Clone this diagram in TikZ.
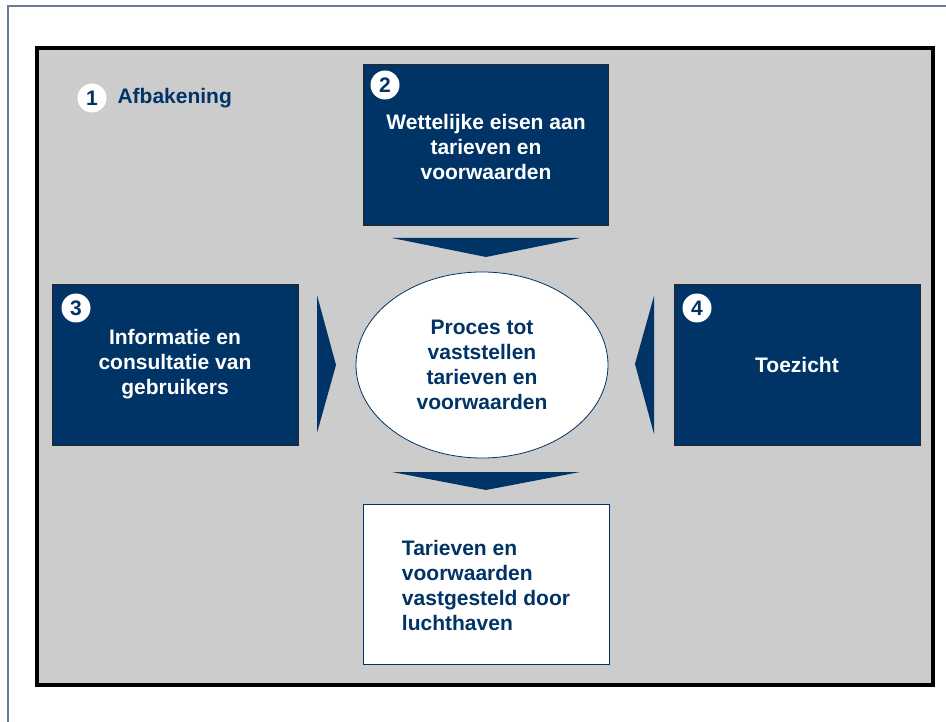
\documentclass[tikz,border=0pt]{standalone}
\usepackage{fontspec}
\setmainfont{Liberation Sans}
\usetikzlibrary{shapes.geometric}
\definecolor{navy}{RGB}{0,51,102}
\definecolor{panelgray}{RGB}{204,204,204}
\definecolor{framegray}{RGB}{105,125,155}
\tikzset{
	navybox/.style={draw=black!85, line width=0.8pt, fill=navy, text=white, align=center, inner sep=0pt, font=\bfseries\fontsize{21}{25}\selectfont},
	numdot/.style={circle, fill=white, text=navy, inner sep=0pt, minimum size=29pt, font=\bfseries\fontsize{21}{21}\selectfont},
	wedge/.style={fill=navy},
}
\begin{document}
\begin{tikzpicture}[x=1pt, y=-1pt]
		%%%%% START %%%%%
		\useasboundingbox (0,0) rectangle (946,722);
		
		\draw[line width=1.5pt, color=framegray] (8,722) -- (8,6) -- (946,6);
		\draw[line width=4pt, fill=panelgray] (37,48) rectangle (932.5,685);
		
		\node[numdot] (n1) at (92,98) {1};
		\node[anchor=west, text=navy, font=\bfseries\fontsize{21}{25}\selectfont] (afbakening) at (114,98) {Afbakening};
		
		\node[navybox, minimum width=245pt, minimum height=161pt] (wettelijk) at (485.5,144.5) {};
		\node[text=white, align=center, font=\bfseries\fontsize{21}{25}\selectfont] (wettelijktxt) at (486,147) {Wettelijke eisen aan\\tarieven en\\voorwaarden};
		\node[numdot] (n2) at (385,85) {2};
		
		\node[navybox, minimum width=246pt, minimum height=161pt] (gebruikers) at (175,364.5) {Informatie en\\consultatie van\\gebruikers};
		\node[numdot] (n3) at (76,308) {3};
		
		\node[navybox, minimum width=246pt, minimum height=161pt] (toezicht) at (797,364.5) {Toezicht};
		\node[numdot] (n4) at (697,308) {4};
		
		\node[ellipse, draw=navy, line width=0.8pt, fill=white, text=navy, align=center, inner sep=0pt, minimum width=252pt, minimum height=186pt, font=\bfseries\fontsize{21}{25}\selectfont] (proces) at (482,365) {Proces tot\\vaststellen\\tarieven en\\voorwaarden};
		
		\node[draw=navy, line width=1pt, fill=white, minimum width=246pt, minimum height=160pt] (luchthaven) at (486,584) {};
		\node[text=navy, align=left, inner sep=0pt, font=\bfseries\fontsize{21}{25}\selectfont] (luchthaventxt) at (486,585) {Tarieven en\\voorwaarden\\vastgesteld door\\luchthaven};
		
		% wedges
		\fill[wedge] (392,238) -- (580,238) -- (486,257) -- cycle;
		\fill[wedge] (317,295) -- (336,365) -- (317,433) -- cycle;
		\fill[wedge] (654,296) -- (635,364) -- (654,434) -- cycle;
		\fill[wedge] (392,472) -- (580,472) -- (486,490) -- cycle;
		
		%%%%% END %%%%%
\end{tikzpicture}
\end{document}
